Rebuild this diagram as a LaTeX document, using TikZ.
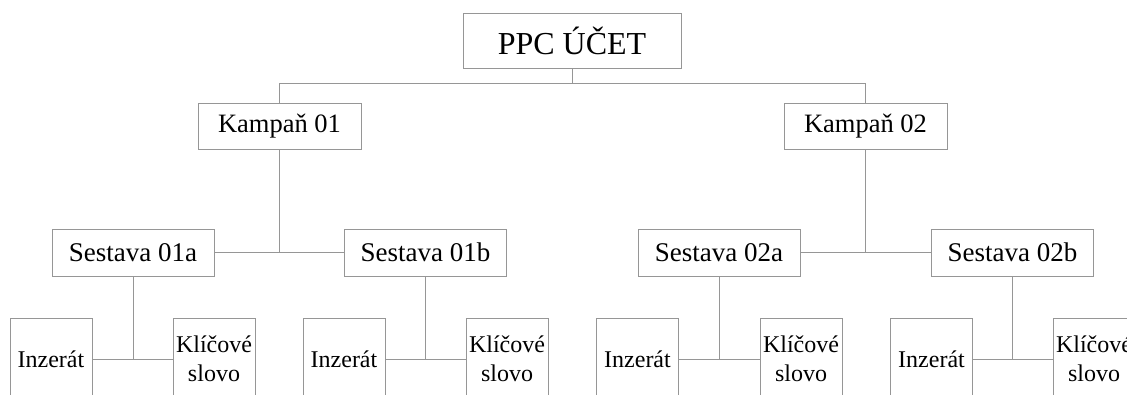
\documentclass[tikz,border=0pt]{standalone}
\usepackage{fontspec}
\setmainfont{Liberation Serif}
\definecolor{linegray}{RGB}{150,150,150}
\tikzset{
  box/.style={draw=linegray, line width=1pt, fill=white, inner sep=0pt, text=black, align=center},
  topbox/.style={box, minimum width=218pt, minimum height=55pt, font=\fontsize{32}{36}\selectfont},
  kbox/.style={box, minimum width=163pt, minimum height=46pt, font=\fontsize{26.5}{30}\selectfont},
  sbox/.style={box, minimum width=162pt, minimum height=47pt, font=\fontsize{27}{30}\selectfont},
  leafbox/.style={box, minimum width=82pt, minimum height=82pt, font=\fontsize{24}{29.5}\selectfont},
  conn/.style={draw=linegray, line width=1pt}
}
\begin{document}
\begin{tikzpicture}[x=1pt,y=-1pt]
\useasboundingbox (0,0) rectangle (1127,394);
\fill[white] (0,0) rectangle (1127,394);
\clip (0,0) rectangle (1127,394);
% nodes
\node[topbox] (ppc) at (572,40.5) {PPC ÚČET};
\node[kbox] (k1) at (279.5,126) {Kampaň 01};
\node[kbox] (k2) at (865.5,126) {Kampaň 02};
\node[sbox] (s1a) at (133,252.5) {Sestava 01a};
\node[sbox] (s1b) at (425.5,252.5) {Sestava 01b};
\node[sbox] (s2a) at (719,252.5) {Sestava 02a};
\node[sbox] (s2b) at (1012.5,252.5) {Sestava 02b};
\node[leafbox] (i1) at (51,359) {Inzerát};
\node[leafbox] (w1) at (214,359) {Klíčové\\slovo};
\node[leafbox] (i2) at (344,359) {Inzerát};
\node[leafbox] (w2) at (507,359) {Klíčové\\slovo};
\node[leafbox] (i3) at (637.5,359) {Inzerát};
\node[leafbox] (w3) at (801,359) {Klíčové\\slovo};
\node[leafbox] (i4) at (931.5,359) {Inzerát};
\node[leafbox] (w4) at (1094,359) {Klíčové\\slovo};
\coordinate (bus) at (572,83);
% connectors
\draw[conn] (ppc.south) -- (ppc.south |- bus);
\draw[conn] (k1.north) -- (k1.north |- bus) -- (k2.north |- bus) -- (k2.north);
\draw[conn] (s1a.east) -- (s1b.west);
\draw[conn] (k1.south) -- (k1.south |- s1a.east);
\draw[conn] (s2a.east) -- (s2b.west);
\draw[conn] (k2.south) -- (k2.south |- s2a.east);
\draw[conn] (i1.east) -- (w1.west);
\draw[conn] (s1a.south) -- (s1a.south |- i1.east);
\draw[conn] (i2.east) -- (w2.west);
\draw[conn] (s1b.south) -- (s1b.south |- i2.east);
\draw[conn] (i3.east) -- (w3.west);
\draw[conn] (s2a.south) -- (s2a.south |- i3.east);
\draw[conn] (i4.east) -- (w4.west);
\draw[conn] (s2b.south) -- (s2b.south |- i4.east);
\end{tikzpicture}
\end{document}
